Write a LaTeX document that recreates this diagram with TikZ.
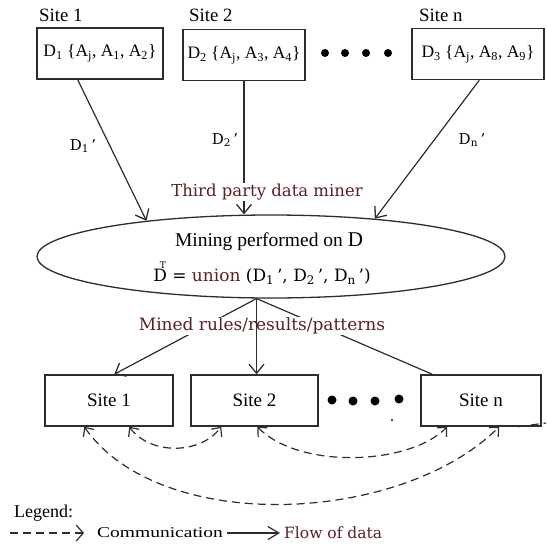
\documentclass[tikz,border=0pt]{standalone}
\usepackage{fontspec}
\setmainfont{Liberation Serif}
\newfontfamily\widefont{DejaVu Serif}
\newfontfamily\stretchfont{Liberation Serif}[FakeStretch=1.3]
\usetikzlibrary{arrows.meta,shapes.geometric,calc}
\definecolor{ink}{RGB}{45,45,45}
\definecolor{wine}{RGB}{90,32,36}
\newcommand{\fs}[1]{\fontsize{#1}{#1}\selectfont}
\newcommand{\sub}[1]{\textsubscript{#1}}

\begin{document}
\begin{tikzpicture}[x=1pt,y=-1pt,
  sitebox/.style={draw=ink, line width=1.5pt, minimum width=#1, minimum height=51, inner sep=0pt},
  plain/.style={inner sep=0pt, text=black},
  flow/.style={draw=ink, line width=1.2pt},
  flowarr/.style={flow, -{Straight Barb[length=9pt,width=15pt,line width=1.3pt]}},
  comm/.style={draw=ink, line width=1.2pt, dash pattern=on 8pt off 5pt},
  commarr/.style={comm, {Straight Barb[length=7pt,width=13pt,line width=1.2pt]}-{Straight Barb[length=7pt,width=13pt,line width=1.2pt]}},
  bigdot/.style={circle, fill=black, inner sep=0pt, minimum size=8pt},
]
\useasboundingbox (0,0) rectangle (546,546);

% ---- sites holding the partitioned data
\node[plain, anchor=west] (s1) at (39,15) {\fs{18.8}Site 1};
\node[plain, anchor=west] (s2) at (189,15) {\fs{18.8}Site 2};
\node[plain, anchor=west] (sn) at (419,15) {\fs{18.8}Site n};

\node[sitebox=126] (t1) at (100,53.5) {\fs{17.5}D\sub{1} \{A\sub{j}, A\sub{1}, A\sub{2}\}};
\node[sitebox=122] (t2) at (244,55) {\fs{17.5}D\sub{2} \{A\sub{j}, A\sub{3}, A\sub{4}\}};
\node[sitebox=132] (tn) at (478,54) {\fs{17.5}D\sub{3} \{A\sub{j}, A\sub{8}, A\sub{9}\}};

\node[bigdot] (td1) at (325,53) {};
\node[bigdot] (td2) at (345,53) {};
\node[bigdot] (td3) at (366,53) {};
\node[bigdot] (td4) at (388,53) {};

% ---- third party miner
\node[draw=ink, line width=1.3pt, ellipse, minimum width=468, minimum height=83, inner sep=0pt] (miner) at (271,256.5) {};

\coordinate (a1) at ($(t1.south west)!0.325!(t1.south east)$);
\coordinate (an) at ($(tn.south west)+(68,0)$);
\draw[flowarr] (a1) -- (miner.164.5);
\draw[flowarr] (t2.south) -- (t2.south |- miner.north);
\draw[flowarr] (an) -- (miner.20.6);

\node[plain] (d1) at (83,146) {\widefont\fs{15}D\sub{1}\,’};
\node[plain] (d2) at (225,140) {\widefont\fs{15}D\sub{2}\,’};
\node[plain] (dn) at (472,140) {\widefont\fs{15}D\sub{n}\,’};

\node[fill=white, inner sep=1pt, text=wine] (tp) at (267,192) {\widefont\fs{16.5}Third party data miner};

\node[plain] (m1) at (269,242) {\fs{19.5}Mining performed on \fs{21}D};
\node[plain] (m2) at (262,273) {\widefont\fs{17}D\llap{\raisebox{0.8em}{\fs{9}T}\kern1pt} = \textcolor{wine}{union} (D\sub{1}\,’, D\sub{2}\,’, D\sub{n}\,’)};

% ---- results sent back to the sites
\node[sitebox=128] (b1) at (109,400.5) {\fs{19}Site 1};
\node[sitebox=127] (b2) at (254.5,400.5) {\fs{19}Site 2};
\node[sitebox=120] (bn) at (481,400.5) {\fs{19}Site n};

\node[bigdot, minimum size=9pt] (bd1) at (332,400) {};
\node[bigdot, minimum size=9pt] (bd2) at (353,401) {};
\node[bigdot, minimum size=9pt] (bd3) at (375,401) {};
\node[bigdot, minimum size=9pt] (bd4) at (399,399) {};
\node[circle, fill=ink, inner sep=0pt, minimum size=2.5pt] (speck) at (392,420) {};

\coordinate (r1) at ($(b1.north west)+(70,0)$);
\coordinate (rn) at ($(bn.north west)+(12,0)$);
\draw[flowarr] (miner.251.3) -- (r1);
\draw[flow] (miner.251.3) -- (rn);
\node[fill=white, inner sep=1pt, text=wine] (mr) at (262,326) {\widefont\fs{17}Mined rules/results/patterns};
\draw[flowarr] (miner.251.3) -- (miner.251.3 |- b2.north);

% ---- communication between the sites
\coordinate (c1a) at ($(b1.south west)+(85,0)$);
\coordinate (c2a) at ($(b2.south west)+(31,0)$);
\coordinate (c2b) at ($(b2.south west)+(67,0)$);
\coordinate (cna) at ($(bn.south west)+(27,0)$);
\coordinate (c1b) at ($(b1.south west)+(40,0)$);
\coordinate (cnb) at ($(bn.south west)+(79,0)$);
\draw[commarr] (c1a) .. controls (150,455) and (200,455) .. (c2a);
\draw[commarr] (c2b) .. controls (300,470) and (410,465) .. (cna);
\draw[commarr] (c1b) .. controls (160,535) and (400,525) .. (cnb);
\coordinate (cnc) at ($(bn.south east)+(-24,0)$);
\coordinate (cnd) at (546,423);
\draw[comm] (cnc) -- (cnd);

% ---- legend
\node[plain, anchor=west] (lg) at (14,513) {\fs{18}Legend:};
\coordinate (lgc) at (10,533);
\node[plain, anchor=west] (lcomm) at (97,533) {\stretchfont\fs{15}Communication};
\node[plain, anchor=west, text=wine] (lflow) at (284,533) {\widefont\fs{15.5}Flow of data};
\draw[comm, -{Straight Barb[length=7pt,width=16pt,line width=1.2pt]}] (lgc) -- ([xshift=-13pt]lcomm.west);
\draw[flow, -{Straight Barb[length=11pt,width=13pt,line width=1.2pt]}] ([xshift=4pt]lcomm.east) -- ([xshift=-4pt]lflow.west);
\end{tikzpicture}
\end{document}
